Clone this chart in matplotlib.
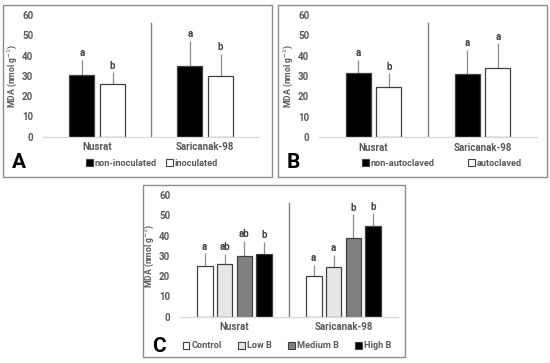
import matplotlib
matplotlib.use("Agg")
import matplotlib.pyplot as plt
from matplotlib.patches import Rectangle, Patch

plt.rcParams["font.family"] = ["Roboto", "DejaVu Sans"]

W, H = 550, 363
categories = ["Nusrat", "Saricanak-98"]

# Panel A
a_labels = ["non-inoculated", "inoculated"]
a_vals = [[30.4, 34.8], [26.0, 29.8]]
a_err = [[7.4, 12.5], [5.8, 11.2]]
a_letters = [["a", "a"], ["b", "b"]]
a_colors = ["#000000", "#ffffff"]

# Panel B
b_labels = ["non-autoclaved", "autoclaved"]
b_vals = [[31.4, 30.9], [24.8, 33.8]]
b_err = [[6.5, 12.0], [6.6, 12.3]]
b_letters = [["a", "a"], ["b", "a"]]
b_colors = ["#000000", "#ffffff"]

# Panel C
c_labels = ["Control", "Low B", "Medium B", "High B"]
c_vals = [[25.0, 20.0], [25.8, 24.3], [29.9, 38.8], [30.9, 44.5]]
c_err = [[6.2, 5.5], [5.2, 6.1], [7.5, 11.6], [6.1, 6.4]]
c_letters = [["a", "a"], ["ab", "a"], ["ab", "b"], ["b", "b"]]
c_colors = ["#ffffff", "#e6e6e6", "#808080", "#000000"]

yticks = [0, 10, 20, 30, 40, 50, 60]

TXT = "#595959"
EDGE = "#404040"

fig = plt.figure(figsize=(W / 100, H / 100), dpi=100)
fig.patch.set_facecolor("white")


def frect(x0, y0, x1, y1):
    return [x0 / W, 1 - y1 / H, (x1 - x0) / W, (y1 - y0) / H]


def border(x0, y0, x1, y1):
    fig.patches.append(Rectangle((x0 / W, 1 - y1 / H), (x1 - x0) / W, (y1 - y0) / H,
                                 transform=fig.transFigure, fill=False,
                                 edgecolor="#8c8c8c", lw=1.0))


def panel(rect, vals, errs, letters, colors, labels, width, offsets,
          sep_x, letter_txt, letter_xy, legend_xy, legend_cols_spacing):
    ax = fig.add_axes(frect(*rect))
    n = len(vals)
    for i in range(n):
        xs = [c + offsets[i] for c in range(len(categories))]
        ax.bar(xs, vals[i], width=width, color=colors[i], edgecolor=EDGE,
               linewidth=0.9, zorder=2)
        ax.errorbar(xs, vals[i], yerr=[[0] * len(xs), errs[i]], fmt="none",
                    ecolor="#8c8c8c", elinewidth=0.9, capsize=0, zorder=1)
        for x, v, e, t in zip(xs, vals[i], errs[i], letters[i]):
            ax.text(x, v + e + 0.8, t, ha="center", va="bottom", fontsize=7,
                    fontweight="bold", color="#404040")
    ax.set_xlim(-0.5, len(categories) - 0.5)
    ax.set_ylim(0, 60)
    ax.set_yticks(yticks)
    ax.set_yticklabels([str(t) for t in yticks], fontsize=7, fontweight="bold", color=TXT)
    ax.set_xticks(range(len(categories)))
    ax.set_xticklabels(categories, fontsize=7, fontweight="bold", color=TXT)
    ax.tick_params(axis="y", length=0, pad=7)
    ax.tick_params(axis="x", length=0, pad=4)
    for s in ["top", "right", "left"]:
        ax.spines[s].set_visible(False)
    ax.spines["bottom"].set_color("#d9d9d9")
    ax.spines["bottom"].set_linewidth(0.9)
    ax.axvline(sep_x, ymin=0, ymax=56 / 60, color="#7f7f7f", lw=1.0)
    ax.set_ylabel("MDA (nmol g$^{-1}$)", fontsize=6.2, fontweight="bold", color=TXT, labelpad=2.5)
    fig.text(letter_xy[0] / W, 1 - letter_xy[1] / H, letter_txt, fontsize=15,
             fontweight="bold", ha="left", va="center", color="black")
    handles = [Patch(facecolor=c, edgecolor=EDGE, linewidth=0.8) for c in colors]
    fig.legend(handles, labels, loc="center", bbox_to_anchor=(legend_xy[0] / W, 1 - legend_xy[1] / H),
               ncol=len(labels), frameon=False, prop={"size": 6.6, "weight": "bold"},
               labelcolor=TXT, handlelength=0.75, handleheight=0.75, handletextpad=0.2,
               columnspacing=legend_cols_spacing, borderaxespad=0)
    return ax


border(3, 5, 272, 177)
border(278, 5, 547, 177)
border(143, 185, 405, 357)

panel((43, 15, 259, 136.7), a_vals, a_err, a_letters, a_colors, a_labels,
      0.23, [-0.14, 0.145], 0.5, "A", (12, 163), (152, 163), 1.0)
panel((319, 15, 537, 137), b_vals, b_err, b_letters, b_colors, b_labels,
      0.225, [-0.14, 0.14], 0.5, "B", (287, 163), (442, 163), 3.6)
panel((180, 195, 398, 316.7), c_vals, c_err, c_letters, c_colors, c_labels,
      0.145, [-0.273, -0.091, 0.091, 0.273], 0.5, "C", (152, 346), (287, 346), 1.8)

fig.savefig("out.png", dpi=100)
